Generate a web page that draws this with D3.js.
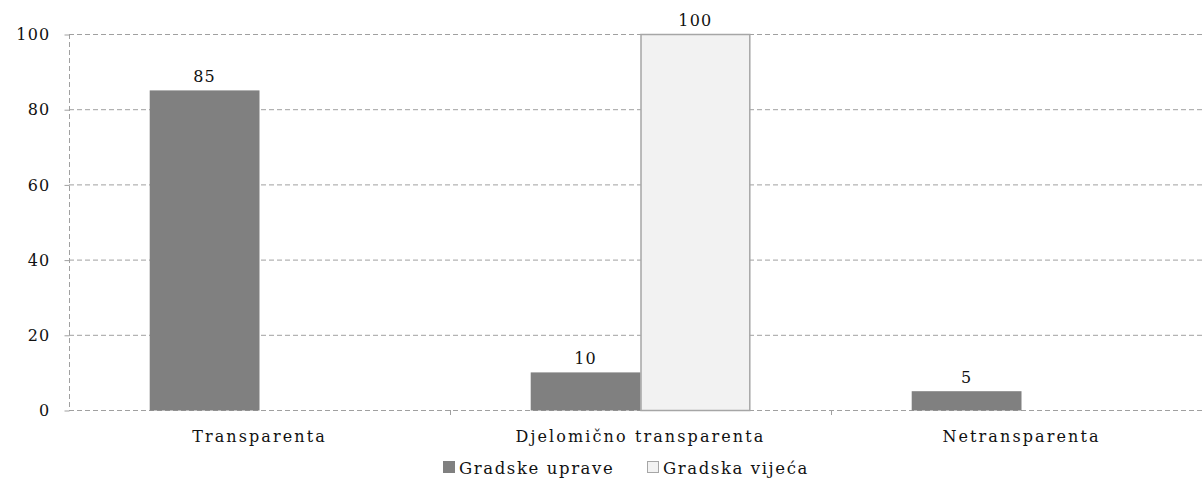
<!DOCTYPE html>
<html><head><meta charset="utf-8">
<script src="https://cdn.jsdelivr.net/npm/d3@7/dist/d3.min.js"></script>
<style>
html,body{margin:0;padding:0;background:#fff;}
svg text{font-family:"DejaVu Serif",serif;fill:#111;}
</style></head>
<body><svg id="c" width="1203" height="494"></svg>
<script>
const categories = ["Transparenta", "Djelomično transparenta", "Netransparenta"];
const seriesNames = ["Gradske uprave", "Gradska vijeća"];
const gradskeUprave = [85, 10, 5];
const gradskaVijeca = [0, 100, 0];
const yTicks = [0, 20, 40, 60, 80, 100];

(function () {
const series = [gradskeUprave, gradskaVijeca];
const fills = ["#808080", "#f2f2f2"];
const strokes = ["none", "#a6a6a6"];

const svg = d3.select("#c");
const pLeft = 69, pTop = 34, pBottom = 410, bandW = 381;
const x = d3.scaleBand().domain(categories).range([pLeft, pLeft + bandW * 3]).paddingInner(0).paddingOuter(0);
const xs = d3.scaleBand().domain([0, 1]).range([0, x.bandwidth()]).paddingInner(0).paddingOuter(0.735);
const y = d3.scaleLinear().domain([0, 100]).range([pBottom, pTop]);

svg.append("g").selectAll("line").data(yTicks).join("line")
  .attr("x1", pLeft).attr("x2", 1203)
  .attr("y1", d => y(d) + 0.5).attr("y2", d => y(d) + 0.5)
  .attr("stroke", "#a0a0a0").attr("stroke-dasharray", "5,3").attr("stroke-width", 1);

svg.append("line").attr("x1", pLeft + 0.5).attr("x2", pLeft + 0.5)
  .attr("y1", pTop).attr("y2", pBottom)
  .attr("stroke", "#a0a0a0").attr("stroke-dasharray", "5,3");

const yAxis = d3.axisLeft(y).tickValues(yTicks).tickSize(5).tickPadding(14);
const gy = svg.append("g").attr("transform", `translate(${pLeft + 0.5},0.5)`).call(yAxis);
gy.select(".domain").remove();
gy.selectAll(".tick line").attr("stroke", "#a0a0a0");
gy.selectAll(".tick text").attr("font-size", 16).attr("font-family", "DejaVu Serif").attr("fill", "#111").attr("letter-spacing", 1.2);

const xTickPos = [1, 2].map(i => pLeft + bandW * i);
svg.append("g").selectAll("line").data(xTickPos).join("line")
  .attr("x1", d => d + 0.5).attr("x2", d => d + 0.5)
  .attr("y1", pBottom).attr("y2", pBottom + 5).attr("stroke", "#a0a0a0");

series.forEach((vals, si) => {
  const data = vals.map((v, i) => ({v, c: categories[i]})).filter(d => d.v > 0);
  svg.append("g").selectAll("rect").data(data).join("rect")
    .attr("x", d => x(d.c) + xs(si) + (si ? 0.5 : 0))
    .attr("y", d => y(d.v) + (si ? 0.5 : 0))
    .attr("width", xs.bandwidth() - (si ? 1 : 0))
    .attr("height", d => y(0) - y(d.v) + (si ? 0 : 0.5))
    .attr("fill", fills[si]).attr("stroke", strokes[si]).attr("stroke-width", 1.5);
  svg.append("g").selectAll("text").data(data).join("text")
    .attr("x", d => x(d.c) + xs(si) + xs.bandwidth() / 2)
    .attr("y", d => y(d.v) - 8)
    .attr("text-anchor", "middle").attr("font-size", 16).attr("letter-spacing", 1.2)
    .text(d => d.v);
});

svg.append("g").selectAll("text").data(categories).join("text")
  .attr("x", d => x(d) + x.bandwidth() / 2)
  .attr("y", 442)
  .attr("text-anchor", "middle").attr("font-size", 16).attr("letter-spacing", 2.1)
  .text(d => d);

const lg = svg.append("g");
const legX = [443, 647];
seriesNames.forEach((n, i) => {
  lg.append("rect").attr("x", legX[i] + 0.5).attr("y", 461.5).attr("width", 11).attr("height", 11)
    .attr("fill", fills[i]).attr("stroke", i ? "#a6a6a6" : "#808080");
  lg.append("text").attr("x", legX[i] + 16).attr("y", 474).attr("font-size", 16.5).attr("letter-spacing", 1.6).text(n);
});
})();
</script></body></html>
